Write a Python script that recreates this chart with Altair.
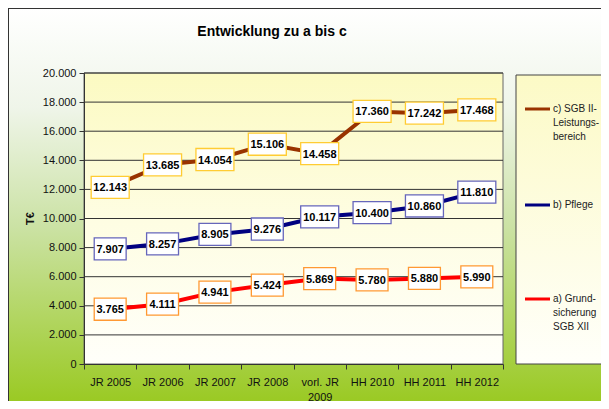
import altair as alt
import pandas as pd

# ---------------- data ----------------
categories = ["JR 2005", "JR 2006", "JR 2007", "JR 2008", "vorl. JR 2009",
              "HH 2010", "HH 2011", "HH 2012"]
series_c = [12143, 13685, 14054, 15106, 14458, 17360, 17242, 17468]
series_b = [7907, 8257, 8905, 9276, 10117, 10400, 10860, 11810]
series_a = [3765, 4111, 4941, 5424, 5869, 5780, 5880, 5990]
series_names = ["c) SGB II-Leistungsbereich", "b) Pflege", "a) Grundsicherung SGB XII"]
legend_lines = [["c) SGB II-", "Leistungs-", "bereich"], ["b) Pflege"],
                ["a) Grund-", "sicherung", "SGB XII"]]
line_colors = ["#993300", "#000080", "#ff0000"]
box_colors = ["#ffcc33", "#6666bb", "#ff9933"]
y_ticks = list(range(0, 20001, 2000))
chart_title = "Entwicklung zu a bis c"
y_title = "T€"

rows = []
for name, vals in zip(series_names, [series_c, series_b, series_a]):
    for cat, v in zip(categories, vals):
        rows.append({"category": cat, "series": name, "value": v})
df = pd.DataFrame(rows)
grid_df = pd.DataFrame({"value": [t for t in y_ticks if t > 0]})
one = pd.DataFrame({"k": [0]})

FONT = "Liberation Sans"
W, H = 419, 291
PAD = {"left": 76, "top": 65, "right": 98, "bottom": 37}

xenc = alt.X("category:N", sort=categories, bandPosition=0.5,
             scale=alt.Scale(type="band", paddingInner=0, paddingOuter=0),
             axis=alt.Axis(title=None, tickBand="extent", labelAngle=0,
                           labelFont=FONT, labelFontSize=11, labelColor="#111",
                           labelPadding=7, labelLineHeight=15, tickSize=5,
                           domainColor="#333", tickColor="#333", zindex=1,
                           labelExpr="datum.value == 'vorl. JR 2009' ? ['vorl. JR', '2009'] : datum.value"))
yaxis = alt.Axis(title=y_title, values=y_ticks, grid=False,
                 labelFont=FONT, labelFontSize=11, labelColor="#111",
                 labelExpr="replace(format(datum.value, ','), ',', '.')",
                 labelPadding=3,
                 tickSize=5, domainColor="#333", tickColor="#333", zindex=1,
                 titleFont=FONT, titleFontSize=11, titleFontWeight="bold",
                 titleColor="#111", titleX=-54, titleY=145,
                 titleAlign="center", titleBaseline="middle", titleAngle=-90)
yscale = alt.Scale(domain=[0, 20000], nice=False)
yenc = alt.Y("value:Q", scale=yscale, axis=yaxis)

# background of the whole chart
bg = alt.Chart(one).mark_rect(
    fill=alt.LinearGradient(gradient="linear", x1=0, y1=0, x2=0, y2=1, stops=[
        alt.GradientStop(offset=0, color="#ffffff"),
        alt.GradientStop(offset=0.25, color="#eff5e9"),
        alt.GradientStop(offset=0.55, color="#cbe2a4"),
        alt.GradientStop(offset=1, color="#99c920")]),
    stroke="#333", strokeWidth=2
).encode(x=alt.value(-PAD["left"]), x2=alt.value(W + PAD["right"] + 5),
         y=alt.value(-PAD["top"]), y2=alt.value(H + PAD["bottom"] + 5))

plot_bg = alt.Chart(one).mark_rect(
    fill=alt.LinearGradient(gradient="linear", x1=0, y1=0, x2=0, y2=1, stops=[
        alt.GradientStop(offset=0, color="#fcfac2"),
        alt.GradientStop(offset=0.5, color="#fefde2"),
        alt.GradientStop(offset=1, color="#fffffa")]),
    stroke="#666", strokeWidth=1
).encode(x=alt.value(0), x2=alt.value(W), y=alt.value(0), y2=alt.value(H))

legend_bg = alt.Chart(one).mark_rect(
    fill=alt.LinearGradient(gradient="linear", x1=0, y1=0, x2=0, y2=1, stops=[
        alt.GradientStop(offset=0, color="#fcfac6"),
        alt.GradientStop(offset=1, color="#fffffa")]),
    stroke="#444", strokeWidth=1
).encode(x=alt.value(432), x2=alt.value(W + PAD["right"] + 5),
         y=alt.value(2), y2=alt.value(H))

grid = alt.Chart(grid_df).mark_rule(color="#333", strokeWidth=1).encode(y=yenc)

lines = alt.Chart(df).mark_line(strokeWidth=4).encode(
    x=xenc, y=yenc,
    color=alt.Color("series:N", scale=alt.Scale(domain=series_names, range=line_colors),
                    legend=None),
    detail="series:N")

path_long = "M-1,-0.58L1,-0.58L1,0.58L-1,0.58Z"
path_short = "M-0.84,-0.58L0.84,-0.58L0.84,0.58L-0.84,0.58Z"
boxes = alt.Chart(df).transform_calculate(
    label="replace(format(datum.value, ','), ',', '.')"
).mark_point(filled=True, fill="white", strokeWidth=1.3, opacity=1, size=1444).encode(
    x=xenc, y=yenc,
    shape=alt.condition("length(datum.label) > 5", alt.value(path_long), alt.value(path_short)),
    stroke=alt.Stroke("series:N", scale=alt.Scale(domain=series_names, range=box_colors),
                      legend=None))

labels = alt.Chart(df).transform_calculate(
    label="replace(format(datum.value, ','), ',', '.')"
).mark_text(font=FONT, fontSize=11, fontWeight="bold", color="#000",
            align="center", baseline="middle", dy=1).encode(
    x=xenc, y=yenc, text="label:N")

title = alt.Chart(one).mark_text(font=FONT, fontSize=14, fontWeight="bold", color="#000",
                                 align="center", baseline="middle").encode(
    x=alt.value(188), y=alt.value(-41), text=alt.value(chart_title))

legend_layers = []
leg_y = [36, 132, 226]
for lines_txt, col, ly in zip(legend_lines, line_colors, leg_y):
    legend_layers.append(alt.Chart(one).mark_rule(color=col, strokeWidth=3).encode(
        x=alt.value(441), x2=alt.value(466), y=alt.value(ly)))
    legend_layers.append(alt.Chart(one).mark_text(
        font=FONT, fontSize=10, color="#222", align="left", baseline="top",
        lineHeight=14, text=lines_txt).encode(
        x=alt.value(469), y=alt.value(ly - 5)))

chart = alt.layer(bg, plot_bg, legend_bg, grid, lines, boxes, labels, title,
                  *legend_layers).resolve_scale(stroke="independent").properties(
    width=W, height=H, padding=PAD,
    autosize=alt.AutoSizeParams(type="none"),
    background="white"
).configure_view(stroke=None)

chart.save("out.html", embed_options={"renderer": "svg", "actions": False})
